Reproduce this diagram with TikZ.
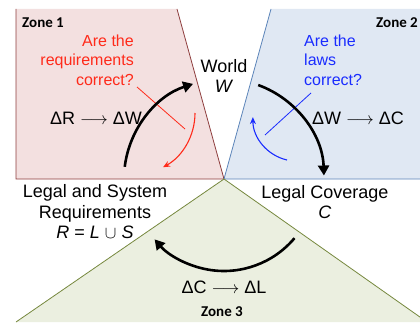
\documentclass[tikz,border=0pt]{standalone}
\usepackage{fontspec}
\setmainfont{Liberation Sans}
\newfontfamily\zonefont{Carlito}
\usetikzlibrary{arrows.meta}
\definecolor{reqfill}{HTML}{F3E0E0}
\definecolor{reqline}{HTML}{8E3E3E}
\definecolor{lawfill}{HTML}{E0E8F3}
\definecolor{lawline}{HTML}{5B84B9}
\definecolor{covfill}{HTML}{EBEFE0}
\definecolor{covline}{HTML}{76883E}
\definecolor{qred}{HTML}{FF2A1A}
\definecolor{qblue}{HTML}{1A2CFF}

\begin{document}
\begin{tikzpicture}[x=1pt, y=1pt,
  lbl/.style={font=\fontsize{18}{20.5}\selectfont, align=center, inner sep=0pt},
  qlbl/.style={font=\fontsize{16}{19.5}\selectfont, inner sep=0pt},
  zlbl/.style={font=\zonefont\bfseries\fontsize{15}{17}\selectfont, inner sep=0pt},
  bigarr/.style={line width=2.6pt, -{Triangle[length=10pt, width=11pt]}},
  thinarr/.style={line width=1.1pt, -{Stealth[length=7pt, width=6pt]}},
  qline/.style={line width=0.8pt}
]
  \useasboundingbox (0,0) rectangle (420,322);
  \clip (0,0) rectangle (420,322);
  \coordinate (apex) at (224,143);

  % zones
  \fill[reqfill] (16,313) -- (177,313) -- (apex) -- (16,143) -- cycle;
  \draw[reqline, line width=0.8pt] (16,313) -- (16,143) -- (apex) -- (177,313);
  \fill[lawfill] (271,313) -- (425,313) -- (425,143) -- (apex) -- cycle;
  \draw[lawline, line width=0.8pt] (271,313) -- (apex) -- (425,143);
  \fill[covfill] (apex) -- (16,0) -- (427,0) -- cycle;
  \draw[covline, line width=0.8pt] (16,0) -- (apex) -- (427,0);

  \node[zlbl, anchor=west] (z1) at (22,299) {Zone 1};
  \node[zlbl, anchor=west] (z2) at (376,299) {Zone 2};
  \node[zlbl] (z3) at (222,10) {Zone 3};

  % labels
  \node[lbl] (world) at (224,246) {World\\\textit{W}};
  \node[lbl] (req) at (95,110) {Legal and System\\Requirements\\\textit{R} = \textit{L} $\cup$ \textit{S}};
  \node[lbl] (cov) at (325,120) {Legal Coverage\\\textit{C}};
  \node[lbl] (drw) at (96,204) {ΔR $\longrightarrow$ ΔW};
  \node[lbl] (dwc) at (358,204) {ΔW $\longrightarrow$ ΔC};
  \node[lbl] (dcl) at (224,35) {ΔC $\longrightarrow$ ΔL};

  \node[qlbl, qred, align=right, anchor=east] (qreq) at (134,262)
    {Are the\\requirements\\correct?};
  \node[qlbl, qblue, align=left, anchor=west] (qlaw) at (304,262)
    {Are the\\laws\\correct?};

  % questions point to the small arcs
  \coordinate (rq1) at (137,235);
  \coordinate (rq2) at (185,193);
  \coordinate (bq1) at (311,229);
  \coordinate (bq2) at (265,187);
  \draw[qred, qline] (rq1) -- (rq2);
  \draw[qblue, qline] (bq1) -- (bq2);

  \draw[qred, thinarr] (195,209) arc[start angle=0, end angle=-61, radius=62];
  \draw[qblue, thinarr] (287,162) arc[start angle=257, end angle=180, radius=44];

  % main cycle
  \draw[bigarr] ([shift={(173:100)}]apex) arc[start angle=173, end angle=108, radius=100];
  \draw[bigarr] ([shift={(70:100)}]apex) arc[start angle=70, end angle=2, radius=100];
  \draw[bigarr] ([shift={(-40:92)}]apex) arc[start angle=-40, end angle=-139, radius=92];

\end{tikzpicture}
\end{document}
